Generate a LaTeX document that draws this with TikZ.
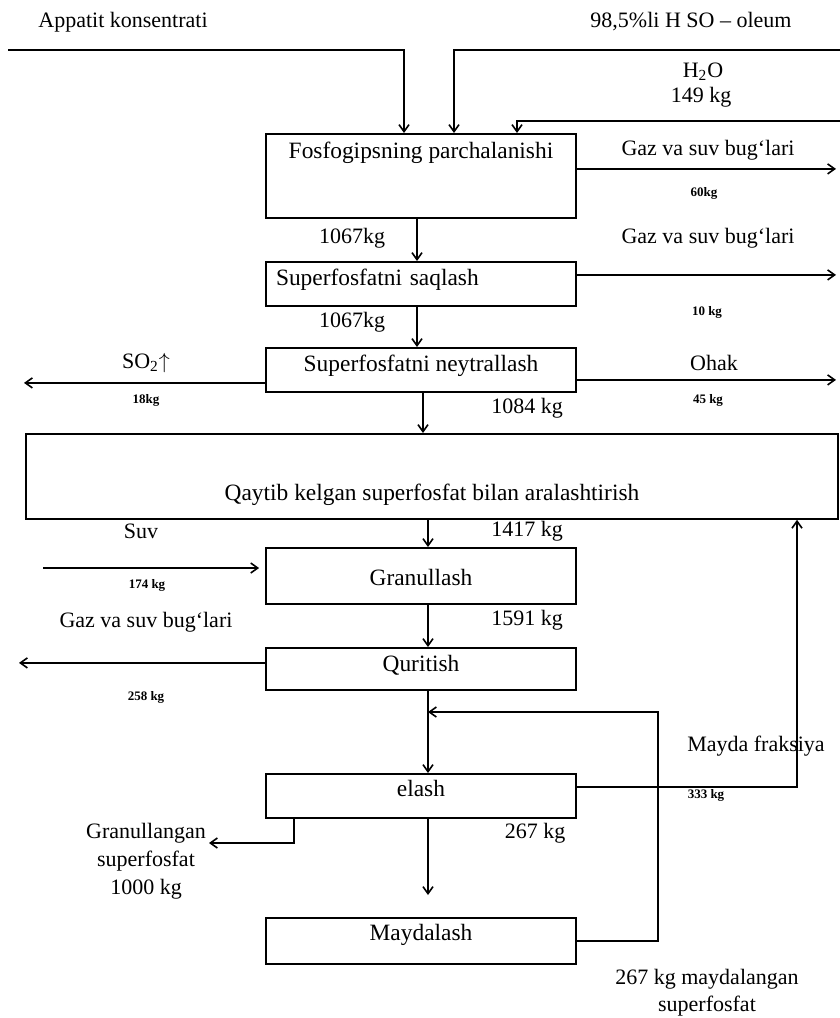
\documentclass[tikz,border=0pt]{standalone}
\usepackage{fontspec}
\setmainfont{Liberation Serif}
\usetikzlibrary{arrows.meta,positioning}

\begin{document}
\begin{tikzpicture}[
    x=0.5pt, y=-0.5pt,
    box/.style={
      draw=black,
      line width=0.9pt,
      minimum width=155pt,
      inner xsep=4pt,
      inner ysep=3pt,
      anchor=north,
      font=\fontsize{11.7}{13}\selectfont,
    },
    lbl/.style={font=\fontsize{11}{13}\selectfont, inner sep=0pt, align=center},
    small/.style={font=\fontsize{6.5}{8}\selectfont\bfseries, inner sep=0pt},
    arr/.style={
      -{Straight Barb[length=3.5pt,width=5pt]},
      line width=0.8pt,
      draw=black,
    },
  ]
    \useasboundingbox (0,0) rectangle (840,1018);

    \node[box, text height=9.3pt, text depth=26.7pt] (parch) at (421,133) {Fosfogipsning parchalanishi};
    \node[box, text height=8.8pt, text depth=7.2pt, text width=145pt, align=left, inner xsep=5pt] (saql) at (421,261) {Superfosfatni saqlash};
    \node[box, text height=8.8pt, text depth=7.2pt] (neyt) at (421,347) {Superfosfatni neytrallash};
    \node[box, minimum width=406pt, text height=30.3pt, text depth=6.2pt] (aral) at (432,433) {Qaytib kelgan superfosfat bilan aralashtirish};
    \node[box, text height=15.8pt, text depth=6.2pt] (gran) at (421,547) {Granullash};
    \node[box, text height=8.8pt, text depth=6.2pt] (qur) at (421,647) {Quritish};
    \node[box, text height=8.3pt, text depth=7.7pt] (elash) at (421,773) {elash};
    \node[box, text height=8.3pt, text depth=8.7pt] (maydal) at (421,917) {Maydalash};

    \node[lbl] (apt) at (123,22) {Appatit konsentrati};
    \node[lbl] (oleum) at (691,22) {98,5\%li H\ SO -- oleum};
    \node[lbl] (h2o) at (703,72) {H\textsubscript{2}O};
    \node[lbl] (h2okg) at (701,97) {149 kg};
    \node[lbl] (gaz1) at (708,150) {Gaz va suv bug‘lari};
    \node[small] (gaz1kg) at (704,193) {60kg};
    \node[lbl] (m1) at (352,238) {1067kg};
    \node[lbl] (gaz2) at (708,238) {Gaz va suv bug‘lari};
    \node[small] (gaz2kg) at (707,312) {10 kg};
    \node[lbl] (m2) at (352,322) {1067kg};
    \node[lbl] (so2) at (146,363) {SO\textsubscript{2}$\uparrow$};
    \node[small] (so2kg) at (146,400) {18kg};
    \node[lbl] (ohak) at (714,363) {Ohak};
    \node[small] (ohakkg) at (708,400) {45 kg};
    \node[lbl] (m3) at (527,408) {1084 kg};
    \node[lbl] (m4) at (527,531) {1417 kg};
    \node[lbl] (suv) at (141,531) {Suv};
    \node[small] (suvkg) at (147,585) {174 kg};
    \node[lbl] (gaz3) at (146,622) {Gaz va suv bug‘lari};
    \node[lbl] (m5) at (527,620) {1591 kg};
    \node[small] (gaz3kg) at (146,697) {258 kg};
    \node[lbl] (frak) at (756,746) {Mayda fraksiya};
    \node[small] (frakkg) at (706,795) {333 kg};
    \node[lbl] (m6) at (535,833) {267 kg};
    \node[lbl, font=\fontsize{11}{14}\selectfont] (prod) at (146,861) {Granullangan\\superfosfat\\1000 kg};
    \node[lbl, font=\fontsize{11}{13.5}\selectfont] (crush) at (707,993) {267 kg maydalangan\\superfosfat};

    \coordinate (apin) at (8,50);
    \coordinate (olin) at (840,50);
    \coordinate (h2oin) at (840,121);
    \coordinate (rout) at (836,0);
    \coordinate (so2out) at (24,0);
    \coordinate (suvin) at (43,568);
    \coordinate (drout) at (19,0);
    \coordinate (fr) at (797,0);
    \coordinate (ret) at (658,712);
    \coordinate (granout) at (209,843);
    \coordinate (mainx) at ([xshift=3.5pt]qur.south);

    \draw[arr] (apin) -| ([xshift=-8.5pt]parch.north);
    \draw[arr] (olin) -| ([xshift=16.5pt]parch.north);
    \draw[arr] (h2oin) -| ([xshift=48pt]parch.north);
    \draw[arr] ([yshift=3.5pt]parch.east) -- ([yshift=3.5pt]parch.east -| rout);
    \draw[arr] ([xshift=-2pt]parch.south) -- ([xshift=-2pt]saql.north);
    \draw[arr] ([yshift=4.5pt]saql.east) -- ([yshift=4.5pt]saql.east -| rout);
    \draw[arr] ([xshift=-2pt]saql.south) -- ([xshift=-2pt]neyt.north);
    \draw[arr] ([yshift=-6.5pt]neyt.west) -- ([yshift=-6.5pt]neyt.west -| so2out);
    \draw[arr] ([yshift=-5pt]neyt.east) -- ([yshift=-5pt]neyt.east -| rout);
    \draw[arr] ([xshift=1pt]neyt.south) -- ([xshift=1pt]neyt.south |- aral.north);
    \draw[arr] ([xshift=3.5pt]gran.north |- aral.south) -- ([xshift=3.5pt]gran.north);
    \draw[arr, shorten >=3pt] (suvin) -- (suvin -| gran.west);
    \draw[arr] ([xshift=3.5pt]gran.south) -- ([xshift=3.5pt]qur.north);
    \draw[arr] ([yshift=3pt]qur.west) -- ([yshift=3pt]qur.west -| drout);
    \draw[arr] (mainx) -- ([xshift=3.5pt]elash.north);
    \draw[arr] ([yshift=4.5pt]elash.east) -| (fr |- aral.south);
    \draw[arr, shorten >=11pt] ([xshift=3.5pt]elash.south) -- ([xshift=3.5pt]maydal.north);
    \draw[arr] ([xshift=14.5pt]elash.south west) |- (granout);
    \draw[arr] (maydal.east) -| (ret) -- (ret -| mainx);
  \end{tikzpicture}
\end{document}
